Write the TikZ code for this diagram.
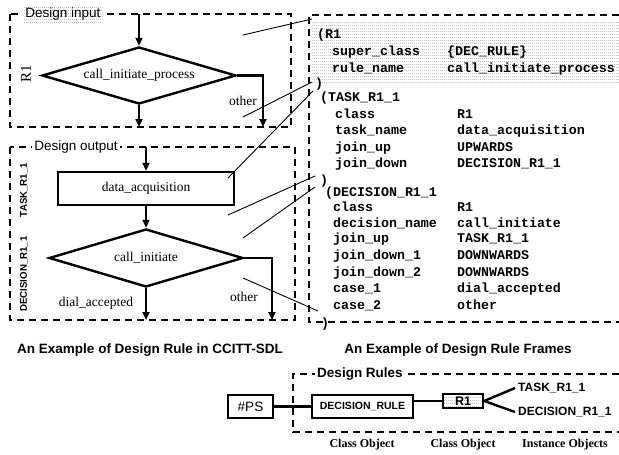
\documentclass[tikz,border=0pt]{standalone}
\usepackage{fontspec}
\setmainfont{Liberation Serif}
\setsansfont{Liberation Sans}
\setmonofont{Liberation Mono}
\usetikzlibrary{arrows.meta,shapes.geometric,patterns.meta}

% rows of fine dots used as a light screen
\pgfdeclarepattern{name=dotrows, type=uncolored,
  bottom left={\pgfpoint{0pt}{0pt}}, top right={\pgfpoint{2pt}{3pt}},
  tile size={\pgfpoint{2pt}{3pt}},
  code={\pgfpathrectangle{\pgfpointorigin}{\pgfpoint{0.9pt}{0.9pt}}\pgfusepath{fill}}}

\tikzset{
  dashframe/.style={line width=2pt, dash pattern=on 7pt off 5pt},
  flowline/.style={line width=2.4pt},
  flowarrow/.style={line width=2.4pt, -{Triangle[length=8pt,width=7pt]}},
  thinlink/.style={line width=0.9pt},
  screen/.style={pattern=dotrows, pattern color=black!55},
  serifbig/.style={font=\fontsize{13.5}{15}\selectfont},
  decbox/.style={draw, line width=2.4pt, diamond, aspect=3.4, inner sep=0pt,
    minimum width=194pt, minimum height=57pt, serifbig},
  taskbox/.style={draw, line width=2.4pt, rectangle, inner sep=0pt, minimum width=176pt,
    minimum height=33pt, serifbig},
  lbl/.style={font=\sffamily\fontsize{13.5}{15}\selectfont, inner sep=2pt},
  boldlbl/.style={font=\sffamily\bfseries\fontsize{13.5}{15}\selectfont, inner sep=2pt},
  sidelbl/.style={font=\sffamily\bfseries\fontsize{9.7}{11}\selectfont, rotate=90, inner sep=0pt},
  mono/.style={font=\ttfamily\bfseries\fontsize{13.3}{15}\selectfont, anchor=base west, inner sep=0pt},
  objbox/.style={draw, line width=2.4pt, rectangle, inner sep=0pt},
  caption/.style={font=\bfseries\fontsize{12}{14}\selectfont, inner sep=0pt},
}

\begin{document}
\begin{tikzpicture}[x=1pt, y=-1pt]
\useasboundingbox (0,0) rectangle (619,455);

% ---------- left: SDL flowchart ----------
% design input frame
\draw[dashframe] (10,14) rectangle (291,127);
\node[lbl, preaction={fill=white}, screen] (inlbl) at (63,14) {Design input};
\node[font=\fontsize{15}{17}\selectfont, rotate=90, inner sep=0pt] (r1side) at (26,74) {R1};

\coordinate (in1top) at (139,14);
\coordinate (in1bot) at (139,127);
\coordinate (in1oth) at (263,127);
\node[decbox] (dec1) at (139,75.5) {call\_initiate\_process};
\draw[flowarrow] (in1top) -- (dec1.north);
\draw[flowarrow] (dec1.south) -- (in1bot);
\draw[flowarrow] (dec1.east) -| (in1oth);
\node[serifbig, inner sep=0pt] (oth1) at (243,101) {other};

% design output frame
\draw[dashframe] (10,147) rectangle (295,320);
\node[lbl, fill=white] (outlbl) at (76,147) {Design output};
\node[sidelbl] (tasklbl) at (24,190) {TASK\_R1\_1};
\node[sidelbl] (declbl) at (24,274) {DECISION\_R1\_1};

\coordinate (outtop) at (146,147);
\coordinate (outbot) at (146,320);
\coordinate (outoth) at (272,320);
\node[taskbox] (acq) at (146,188.5) {data\_acquisition};
\node[decbox, minimum height=58pt] (dec2) at (146,258) {call\_initiate};
\draw[flowarrow] (outtop) -- (acq.north);
\draw[flowarrow] (acq.south) -- (dec2.north);
\draw[flowarrow] (dec2.south) -- (outbot);
\draw[flowarrow] (dec2.east) -| (outoth);
\node[serifbig, inner sep=0pt] (dial) at (96,303) {dial\_accepted};
\node[serifbig, inner sep=0pt] (oth2) at (244,297) {other};

% ---------- right: rule frames ----------
\fill[screen] (312,20) rectangle (619,82);
\draw[dashframe] (619,15) -- (309,15) -- (309,322) -- (619,322);

\node[mono] (fR1) at (317,38) {(R1};
\node[mono] at (332,56) {super\_class};
\node[mono] at (447,56) {\{DEC\_RULE\}};
\node[mono] at (332,72) {rule\_name};
\node[mono] at (447,72) {call\_initiate\_process};
\node[mono] (eR1) at (315,87) {)};

\node[mono] (fTask) at (320,101) {(TASK\_R1\_1};
\foreach \n/\v/\y in {class/R1/118, task\_name/data\_acquisition/134,
    join\_up/UPWARDS/151, join\_down/DECISION\_R1\_1/167}{
  \node[mono] at (335,\y) {\n};
  \node[mono] at (457,\y) {\v};
}
\node[mono] (eTask) at (320,184) {)};

\node[mono] (fDec) at (325,196) {(DECISION\_R1\_1};
\foreach \n/\v/\y in {class/R1/211, decision\_name/call\_initiate/227,
    join\_up/TASK\_R1\_1/242, join\_down\_1/DOWNWARDS/259,
    join\_down\_2/DOWNWARDS/276, case\_1/dial\_accepted/292, case\_2/other/309}{
  \node[mono] at (333,\y) {\n};
  \node[mono] at (457,\y) {\v};
}
\node[mono] (eDec) at (321,327) {)};

% ---------- correspondence lines ----------
\coordinate (c1a) at (243,35);  \coordinate (c1b) at (312,19);
\coordinate (c2a) at (243,117); \coordinate (c2b) at (312,82);
\coordinate (c3a) at (228,178); \coordinate (c3b) at (313,91);
\coordinate (c4a) at (228,215); \coordinate (c4b) at (315,176);
\coordinate (c5a) at (243,238); \coordinate (c5b) at (315,187);
\coordinate (c6a) at (243,278); \coordinate (c6b) at (318,311);
\foreach \i in {1,...,6}{\draw[thinlink] (c\i a) -- (c\i b);}

% ---------- captions ----------
\node[boldlbl, inner sep=0pt] (capL) at (150,350) {An Example of Design Rule in CCITT-SDL};
\node[boldlbl, inner sep=0pt] (capR) at (458,350) {An Example of Design Rule Frames};

% ---------- bottom: class hierarchy ----------
\draw[dashframe] (619,374) -- (293,374) -- (293,432) -- (619,432);
\node[boldlbl, fill=white] (rules) at (360,374) {Design Rules};

\node[objbox, minimum width=45pt, minimum height=23pt, lbl] (ps) at (250.5,406.5) {\#PS};
\node[objbox, minimum width=101pt, minimum height=23pt,
  font=\sffamily\bfseries\fontsize{10.5}{12}\selectfont] (drule) at (362.5,406.5) {DECISION\_RULE};
\node[objbox, minimum width=40pt, minimum height=14pt, screen, preaction={fill=white},
  font=\sffamily\bfseries\fontsize{12.5}{13}\selectfont] (r1obj) at (463,401) {R1};
\node[font=\sffamily\bfseries\fontsize{12}{14}\selectfont, anchor=west, inner sep=3pt] (tinst) at (515,388) {TASK\_R1\_1};
\node[font=\sffamily\bfseries\fontsize{12}{14}\selectfont, anchor=west, inner sep=3pt] (dinst) at (515,412) {DECISION\_R1\_1};

\draw[flowline] (ps.east) -- (drule.west |- ps.east);
\draw[flowline] (drule.east |- r1obj.west) -- (r1obj.west);
\draw[flowline] (r1obj.east) -- (tinst.west);
\draw[flowline] (r1obj.east) -- (dinst.west);

\node[caption] (cap1) at (362,445) {Class Object};
\node[caption] (cap2) at (463,445) {Class Object};
\node[caption] (cap3) at (565,445) {Instance Objects};
\end{tikzpicture}
\end{document}
